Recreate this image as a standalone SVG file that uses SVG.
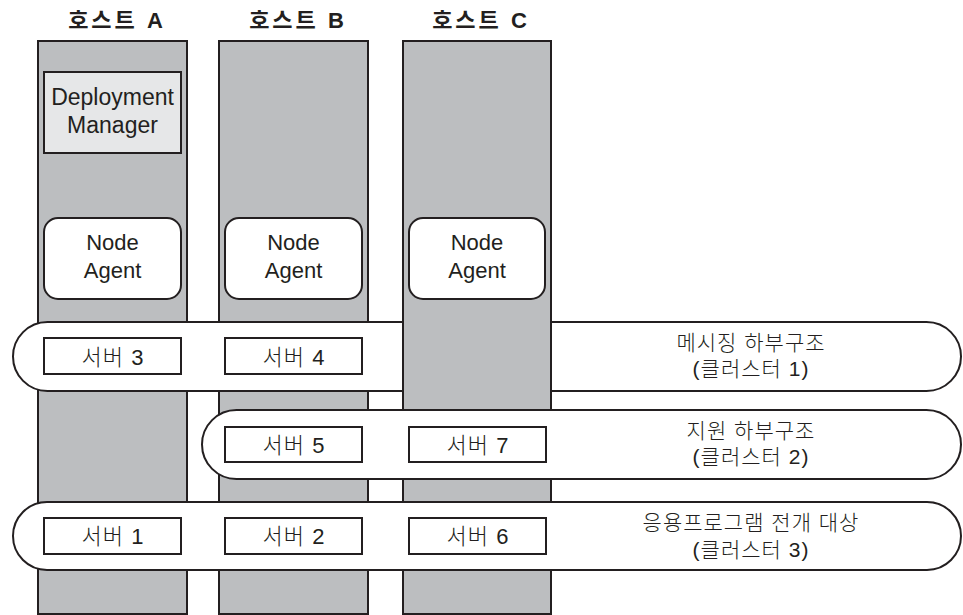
<svg xmlns="http://www.w3.org/2000/svg" width="963" height="615" viewBox="0 0 963 615">
<style>
.host{fill:#bcbec0;stroke:#231f20;stroke-width:2}
.box{fill:#fff;stroke:#231f20;stroke-width:2}
.dm{fill:#e6e7e8;stroke:#231f20;stroke-width:2}
.band{fill:#fff;stroke:#231f20;stroke-width:2}
text{font-family:"Liberation Sans","Noto Sans CJK KR",sans-serif;fill:#231f20;text-anchor:middle}
.title{font-size:22px;font-weight:bold;letter-spacing:3px}
.lbl{font-size:22px}
.dml{font-size:23px}
.sv{font-size:22px;font-weight:300;letter-spacing:1px}
.kr{font-size:21px;font-weight:300;letter-spacing:1px}
</style>
<rect width="963" height="615" fill="#fff"/>
<g id="hostA">
<rect class="host" x="38" y="41" width="149" height="573"/>
<text class="title" x="117" y="28">호스트 A</text>
</g>
<g id="hostB">
<rect class="host" x="219" y="41" width="149" height="573"/>
<text class="title" x="298" y="28">호스트 B</text>
</g>
<g id="deploymentManager">
<rect class="dm" x="44" y="72" width="137" height="81"/>
<text class="dml" x="112.5" y="105">Deployment</text>
<text class="dml" x="112.5" y="133">Manager</text>
</g>
<g id="nodeAgentA">
<rect class="box" x="44" y="218" width="137" height="81" rx="14"/>
<text class="lbl" x="112.5" y="250">Node</text>
<text class="lbl" x="112.5" y="278">Agent</text>
</g>
<g id="nodeAgentB">
<rect class="box" x="225" y="218" width="137" height="81" rx="14"/>
<text class="lbl" x="293.5" y="250">Node</text>
<text class="lbl" x="293.5" y="278">Agent</text>
</g>
<g id="cluster1">
<rect class="band" x="13" y="322" width="948" height="69" rx="34.5"/>
<text class="kr" x="751" y="350">메시징 하부구조</text>
<text class="kr" x="751" y="376">(클러스터 1)</text>
</g>
<g id="server3">
<rect class="box" x="44" y="338" width="137" height="36"/>
<text class="sv" x="113" y="365">서버 3</text>
</g>
<g id="server4">
<rect class="box" x="225" y="338" width="137" height="36"/>
<text class="sv" x="294" y="365">서버 4</text>
</g>
<g id="hostC">
<rect class="host" x="403" y="41" width="148" height="573"/>
<text class="title" x="481" y="28">호스트 C</text>
</g>
<g id="nodeAgentC">
<rect class="box" x="409" y="218" width="136" height="81" rx="14"/>
<text class="lbl" x="477" y="250">Node</text>
<text class="lbl" x="477" y="278">Agent</text>
</g>
<g id="cluster2">
<rect class="band" x="202" y="410" width="759" height="69" rx="34.5"/>
<text class="kr" x="751" y="438">지원 하부구조</text>
<text class="kr" x="751" y="464">(클러스터 2)</text>
</g>
<g id="server5">
<rect class="box" x="225" y="427" width="137" height="35"/>
<text class="sv" x="294" y="453">서버 5</text>
</g>
<g id="server7">
<rect class="box" x="409" y="427" width="137" height="35"/>
<text class="sv" x="478" y="453">서버 7</text>
</g>
<g id="cluster3">
<rect class="band" x="13" y="502" width="948" height="68" rx="34"/>
<text class="kr" x="751" y="530">응용프로그램 전개 대상</text>
<text class="kr" x="751" y="557">(클러스터 3)</text>
</g>
<g id="server1">
<rect class="box" x="44" y="518" width="137" height="36"/>
<text class="sv" x="113" y="544">서버 1</text>
</g>
<g id="server2">
<rect class="box" x="225" y="518" width="137" height="36"/>
<text class="sv" x="294" y="544">서버 2</text>
</g>
<g id="server6">
<rect class="box" x="409" y="518" width="137" height="36"/>
<text class="sv" x="478" y="544">서버 6</text>
</g>
<g id="connectors"/>
</svg>
